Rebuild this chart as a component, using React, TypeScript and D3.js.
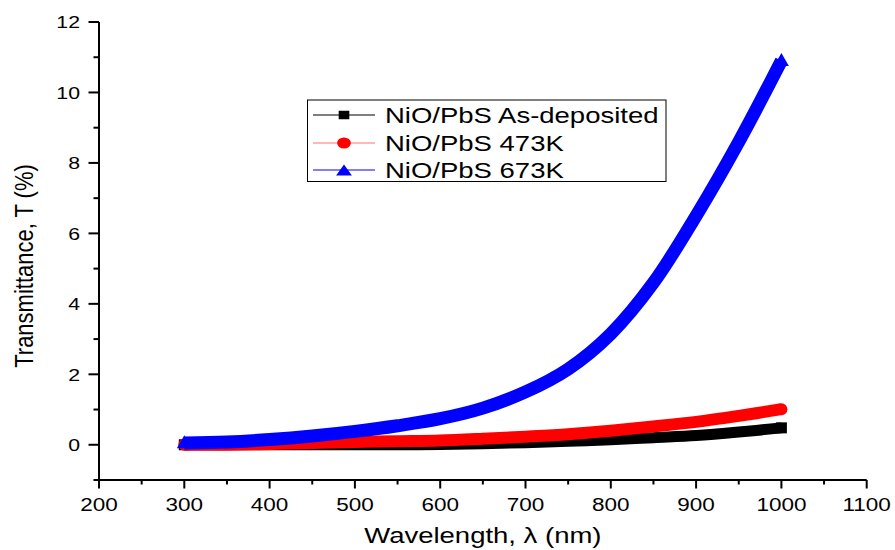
import React from "react";
import * as d3 from "d3";

const wavelengths = [300, 350, 400, 450, 500, 550, 600, 650, 700, 750, 800, 850, 900, 950, 1000];
const asDeposited = [0.0, 0.0, 0.0, 0.0, 0.0, 0.0, 0.01, 0.03, 0.06, 0.1, 0.14, 0.2, 0.26, 0.36, 0.48];
const k473 = [0.0, 0.0, 0.02, 0.05, 0.08, 0.1, 0.12, 0.17, 0.23, 0.3, 0.4, 0.52, 0.65, 0.82, 1.01];
const k673 = [0.05, 0.08, 0.15, 0.25, 0.38, 0.54, 0.74, 1.04, 1.5, 2.15, 3.15, 4.6, 6.5, 8.6, 10.9];

const seriesNames = ["NiO/PbS As-deposited", "NiO/PbS 473K", "NiO/PbS 673K"];
const xTicks = [200, 300, 400, 500, 600, 700, 800, 900, 1000, 1100];
const xMinor = [250, 350, 450, 550, 650, 750, 850, 950, 1050];
const yTicks = [0, 2, 4, 6, 8, 10, 12];
const yMinor = [-1, 1, 3, 5, 7, 9, 11];

const FONT = "'Liberation Sans', Arial, Helvetica, sans-serif";
const SX = 1.25;

function SText(props: { x: number; y: number; size: number; anchor?: string; rotate?: boolean; sx?: number; children: React.ReactNode }) {
  const { x, y, size, anchor = "start", rotate = false, sx = SX, children } = props;
  return (
    <g transform={`translate(${x},${y}) scale(${sx},1)${rotate ? " rotate(-90)" : ""}`}>
      <text x={0} y={0} fontSize={size} fontFamily={FONT} textAnchor={anchor as any} fill="#000">
        {children}
      </text>
    </g>
  );
}

function Marker(props: { kind: string; x: number; y: number; s: number; color: string }) {
  const { kind, x, y, s, color } = props;
  if (kind === "square") {
    return <rect x={x - s / 2} y={y - s / 2} width={s} height={s} fill={color} />;
  }
  if (kind === "circle") {
    return <circle cx={x} cy={y} r={s / 2} fill={color} />;
  }
  const h = s;
  const b = s * 1.15;
  return (
    <polygon
      points={`${x},${y - h * 0.6} ${x - b / 2},${y + h * 0.4} ${x + b / 2},${y + h * 0.4}`}
      fill={color}
    />
  );
}

export default function App() {
  const W = 895;
  const H = 550;
  const x = d3.scaleLinear().domain([200, 1100]).range([99, 866.7]);
  const y = d3.scaleLinear().domain([-1, 12]).range([480, 22]);

  const series = [
    { name: seriesNames[0], values: asDeposited, color: "#000000", legendLine: "#000000", kind: "square", w: 11 },
    { name: seriesNames[1], values: k473, color: "#ff0000", legendLine: "#ff7373", kind: "circle", w: 12 },
    { name: seriesNames[2], values: k673, color: "#0000ff", legendLine: "#0000ff", kind: "triangle", w: 13 },
  ];

  const line = d3
    .line<number>()
    .x((_, i) => x(wavelengths[i]))
    .y((d) => y(d))
    .curve(d3.curveCatmullRom.alpha(0.5));

  const legendRows = [115, 143, 170];
  const last = wavelengths.length - 1;

  return (
    <svg width={W} height={H} style={{ position: "absolute", left: 0, top: 0, display: "block", background: "#fff" }}>
      <rect x={0} y={0} width={W} height={H} fill="#fff" />

      {/* data */}
      {series.map((s) => (
        <g key={s.name}>
          <path d={line(s.values) || ""} fill="none" stroke={s.color} strokeWidth={s.w} strokeLinejoin="round" />
          {s.values.map((v, i) => (
            <Marker
              key={i}
              kind={s.kind}
              x={x(wavelengths[i])}
              y={y(v)}
              s={i === 0 || i === last ? s.w : s.w * 0.6}
              color={s.color}
            />
          ))}
        </g>
      ))}

      {/* axes */}
      <line x1={x(200)} x2={x(1100)} y1={y(-1)} y2={y(-1)} stroke="#000" strokeWidth={2} />
      <line x1={x(200)} x2={x(200)} y1={y(-1)} y2={y(12)} stroke="#000" strokeWidth={2} />
      {xTicks.map((t) => (
        <g key={"xt" + t}>
          <line x1={x(t)} x2={x(t)} y1={y(-1)} y2={y(-1) + 8.5} stroke="#000" strokeWidth={2} />
          <SText x={x(t)} y={510.5} size={18} anchor="middle">
            {t}
          </SText>
        </g>
      ))}
      {xMinor.map((t) => (
        <line key={"xm" + t} x1={x(t)} x2={x(t)} y1={y(-1)} y2={y(-1) + 4.5} stroke="#000" strokeWidth={2} />
      ))}
      {yTicks.map((t) => (
        <g key={"yt" + t}>
          <line x1={x(200) - 10.5} x2={x(200)} y1={y(t)} y2={y(t)} stroke="#000" strokeWidth={2} />
          <SText x={80} y={y(t) + 6.2} size={17} anchor="end">
            {t}
          </SText>
        </g>
      ))}
      {yMinor.map((t) => (
        <line key={"ym" + t} x1={x(200) - 5.5} x2={x(200)} y1={y(t)} y2={y(t)} stroke="#000" strokeWidth={2} />
      ))}

      {/* axis titles */}
      <SText x={x(650)} y={543} size={22} anchor="middle">
        Wavelength, λ (nm)
      </SText>
      <SText x={33} y={266} size={22} anchor="middle" rotate sx={1.15}>
        Transmittance, T (%)
      </SText>

      {/* legend */}
      <rect x={307.5} y={100} width={358.5} height={81.5} fill="#fff" stroke="#000" strokeWidth={1} />
      {series.map((s, i) => (
        <g key={"lg" + i}>
          <line x1={313} x2={375} y1={legendRows[i]} y2={legendRows[i]} stroke={s.legendLine} strokeWidth={1} />
          <g transform={`translate(344,${legendRows[i]}) scale(1.25,1)`}>
            <Marker
              kind={s.kind}
              x={0}
              y={s.kind === "triangle" ? 1 : 0}
              s={s.kind === "square" ? 8.5 : 11}
              color={s.color}
            />
          </g>
          <SText x={385} y={legendRows[i] + 8.2} size={22}>
            {s.name}
          </SText>
        </g>
      ))}
    </svg>
  );
}
